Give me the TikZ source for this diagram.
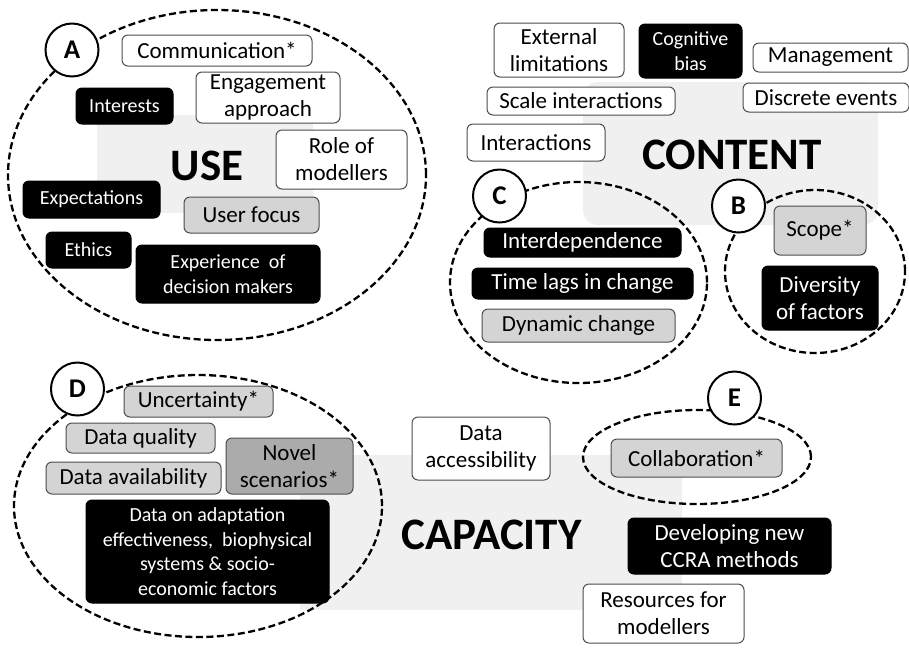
\documentclass[tikz,border=0pt]{standalone}
\usepackage{fontspec}
\setmainfont{Carlito}
\usetikzlibrary{shapes.geometric}
\begin{document}
\begin{tikzpicture}[x=1pt,y=-1pt,
  box/.style={rounded corners=6pt, draw=black!70, line width=1pt, align=center, inner sep=0pt, font=\fontsize{23}{27}\selectfont},
  wbox/.style={box, fill=white, text=black},
  gbox/.style={box, fill=black!17},
  dgbox/.style={box, fill=black!33},
  bbox/.style={box, fill=black, draw=black, text=white},
  sm/.style={font=\fontsize{20}{24.5}\selectfont},
  grp/.style={ellipse, draw, dash pattern=on 7pt off 3.5pt, line width=2.3pt, inner sep=0pt},
  lbl/.style={circle, draw, fill=white, line width=2pt, minimum size=53pt, inner sep=0pt, font=\bfseries\fontsize{27}{27}\selectfont},
  ttl/.style={inner sep=0pt, font=\bfseries\fontsize{45}{45}\selectfont},
  bg/.style={fill=black!6, draw=none}
]
\useasboundingbox (0,0) rectangle (909,649);
% background panels
\fill[bg] (97,115) rectangle (313,213);
\fill[bg, rounded corners=15pt] (583,82) rectangle (878,225);
\fill[bg] (300,455) rectangle (682,610);
% titles
\node[ttl] (use) at (207,166) {USE};
\node[ttl] (content) at (732,155) {CONTENT};
\node[ttl] (capacity) at (491.5,535) {CAPACITY};
% group ellipses
\node[grp, minimum width=418pt, minimum height=330pt] (ellA) at (217,175) {};
\node[grp, minimum width=257pt, minimum height=201pt] (ellC) at (578.5,282.5) {};
\node[grp, minimum width=180pt, minimum height=163pt] (ellB) at (815,271.5) {};
\node[grp, minimum width=368pt, minimum height=262pt] (ellD) at (198,506) {};
\node[grp, minimum width=228pt, minimum height=94pt] (ellE) at (697,457) {};
% group labels
\node[lbl] (lA) at (72,50) {A};
\node[lbl] (lC) at (499.5,196) {C};
\node[lbl] (lB) at (738.5,206) {B};
\node[lbl] (lD) at (77.5,389) {D};
\node[lbl] (lE) at (734.5,398) {E};
% USE group
\node[wbox, minimum width=190pt, minimum height=31pt] (comm) at (217,50.5) {Communication*};
\node[wbox, minimum width=144pt, minimum height=51pt] (engage) at (268,97.5) {Engagement\\approach};
\node[bbox, sm, minimum width=97pt, minimum height=36pt] (interests) at (124.5,106) {Interests};
\node[wbox, minimum width=131pt, minimum height=59pt] (role) at (341.5,159.5) {Role of\\modellers};
\node[bbox, sm, minimum width=137pt, minimum height=37pt] (expect) at (91.5,199.5) {Expectations};
\node[gbox, minimum width=135pt, minimum height=36pt] (userfocus) at (251.5,215) {User focus};
\node[bbox, sm, minimum width=85pt, minimum height=36pt] (ethics) at (88.5,250) {Ethics};
\node[bbox, sm, minimum width=184pt, minimum height=58pt] (experience) at (228,274) {Experience\ \ of\\decision makers};
% CONTENT group
\node[wbox, minimum width=130pt, minimum height=54pt] (extlim) at (559,50) {External\\limitations};
\node[bbox, sm, minimum width=103pt, minimum height=54pt] (cogbias) at (690.5,51) {Cognitive\\bias};
\node[wbox, minimum width=155pt, minimum height=29pt] (mgmt) at (830.5,57.5) {Management};
\node[wbox, minimum width=188pt, minimum height=28pt] (scaleint) at (581,101) {Scale interactions};
\node[wbox, minimum width=166pt, minimum height=29pt] (discrete) at (826,97.5) {Discrete events};
\node[wbox, minimum width=138pt, minimum height=37pt] (interact) at (536,142.5) {Interactions};
\node[bbox, minimum width=197pt, minimum height=29pt] (interdep) at (582.5,242.5) {Interdependence};
\node[bbox, minimum width=221pt, minimum height=31pt] (timelags) at (582.5,283.5) {Time lags in change};
\node[gbox, minimum width=193pt, minimum height=33pt] (dynchange) at (578.5,325.5) {Dynamic change};
\node[gbox, minimum width=92pt, minimum height=49pt] (scope) at (820,230.5) {Scope*};
\node[bbox, minimum width=116pt, minimum height=64pt] (diversity) at (820,298) {Diversity\\of factors};
% CAPACITY group
\node[gbox, minimum width=149pt, minimum height=31pt] (uncert) at (198.5,401.5) {Uncertainty*};
\node[gbox, minimum width=149pt, minimum height=30pt] (dquality) at (140.5,438) {Data quality};
\node[gbox, minimum width=175pt, minimum height=32pt] (davail) at (133.5,478) {Data availability};
\node[dgbox, minimum width=127pt, minimum height=56pt] (novel) at (289.5,466) {Novel\\scenarios*};
\node[bbox, sm, minimum width=243pt, minimum height=103pt] (dataon) at (207.5,551.5) {Data on adaptation\\effectiveness,\ \ biophysical\\systems \& socio-\\economic factors};
\node[wbox, minimum width=138pt, minimum height=63pt] (daccess) at (481,448.5) {Data\\accessibility};
\node[gbox, minimum width=171pt, minimum height=38pt] (collab) at (696.5,458) {Collaboration*};
\node[bbox, minimum width=203pt, minimum height=56pt] (develop) at (729.5,546) {Developing new\\CCRA methods};
\node[wbox, minimum width=161pt, minimum height=59pt] (resources) at (663.5,613.5) {Resources for\\modellers};
\end{tikzpicture}
\end{document}
